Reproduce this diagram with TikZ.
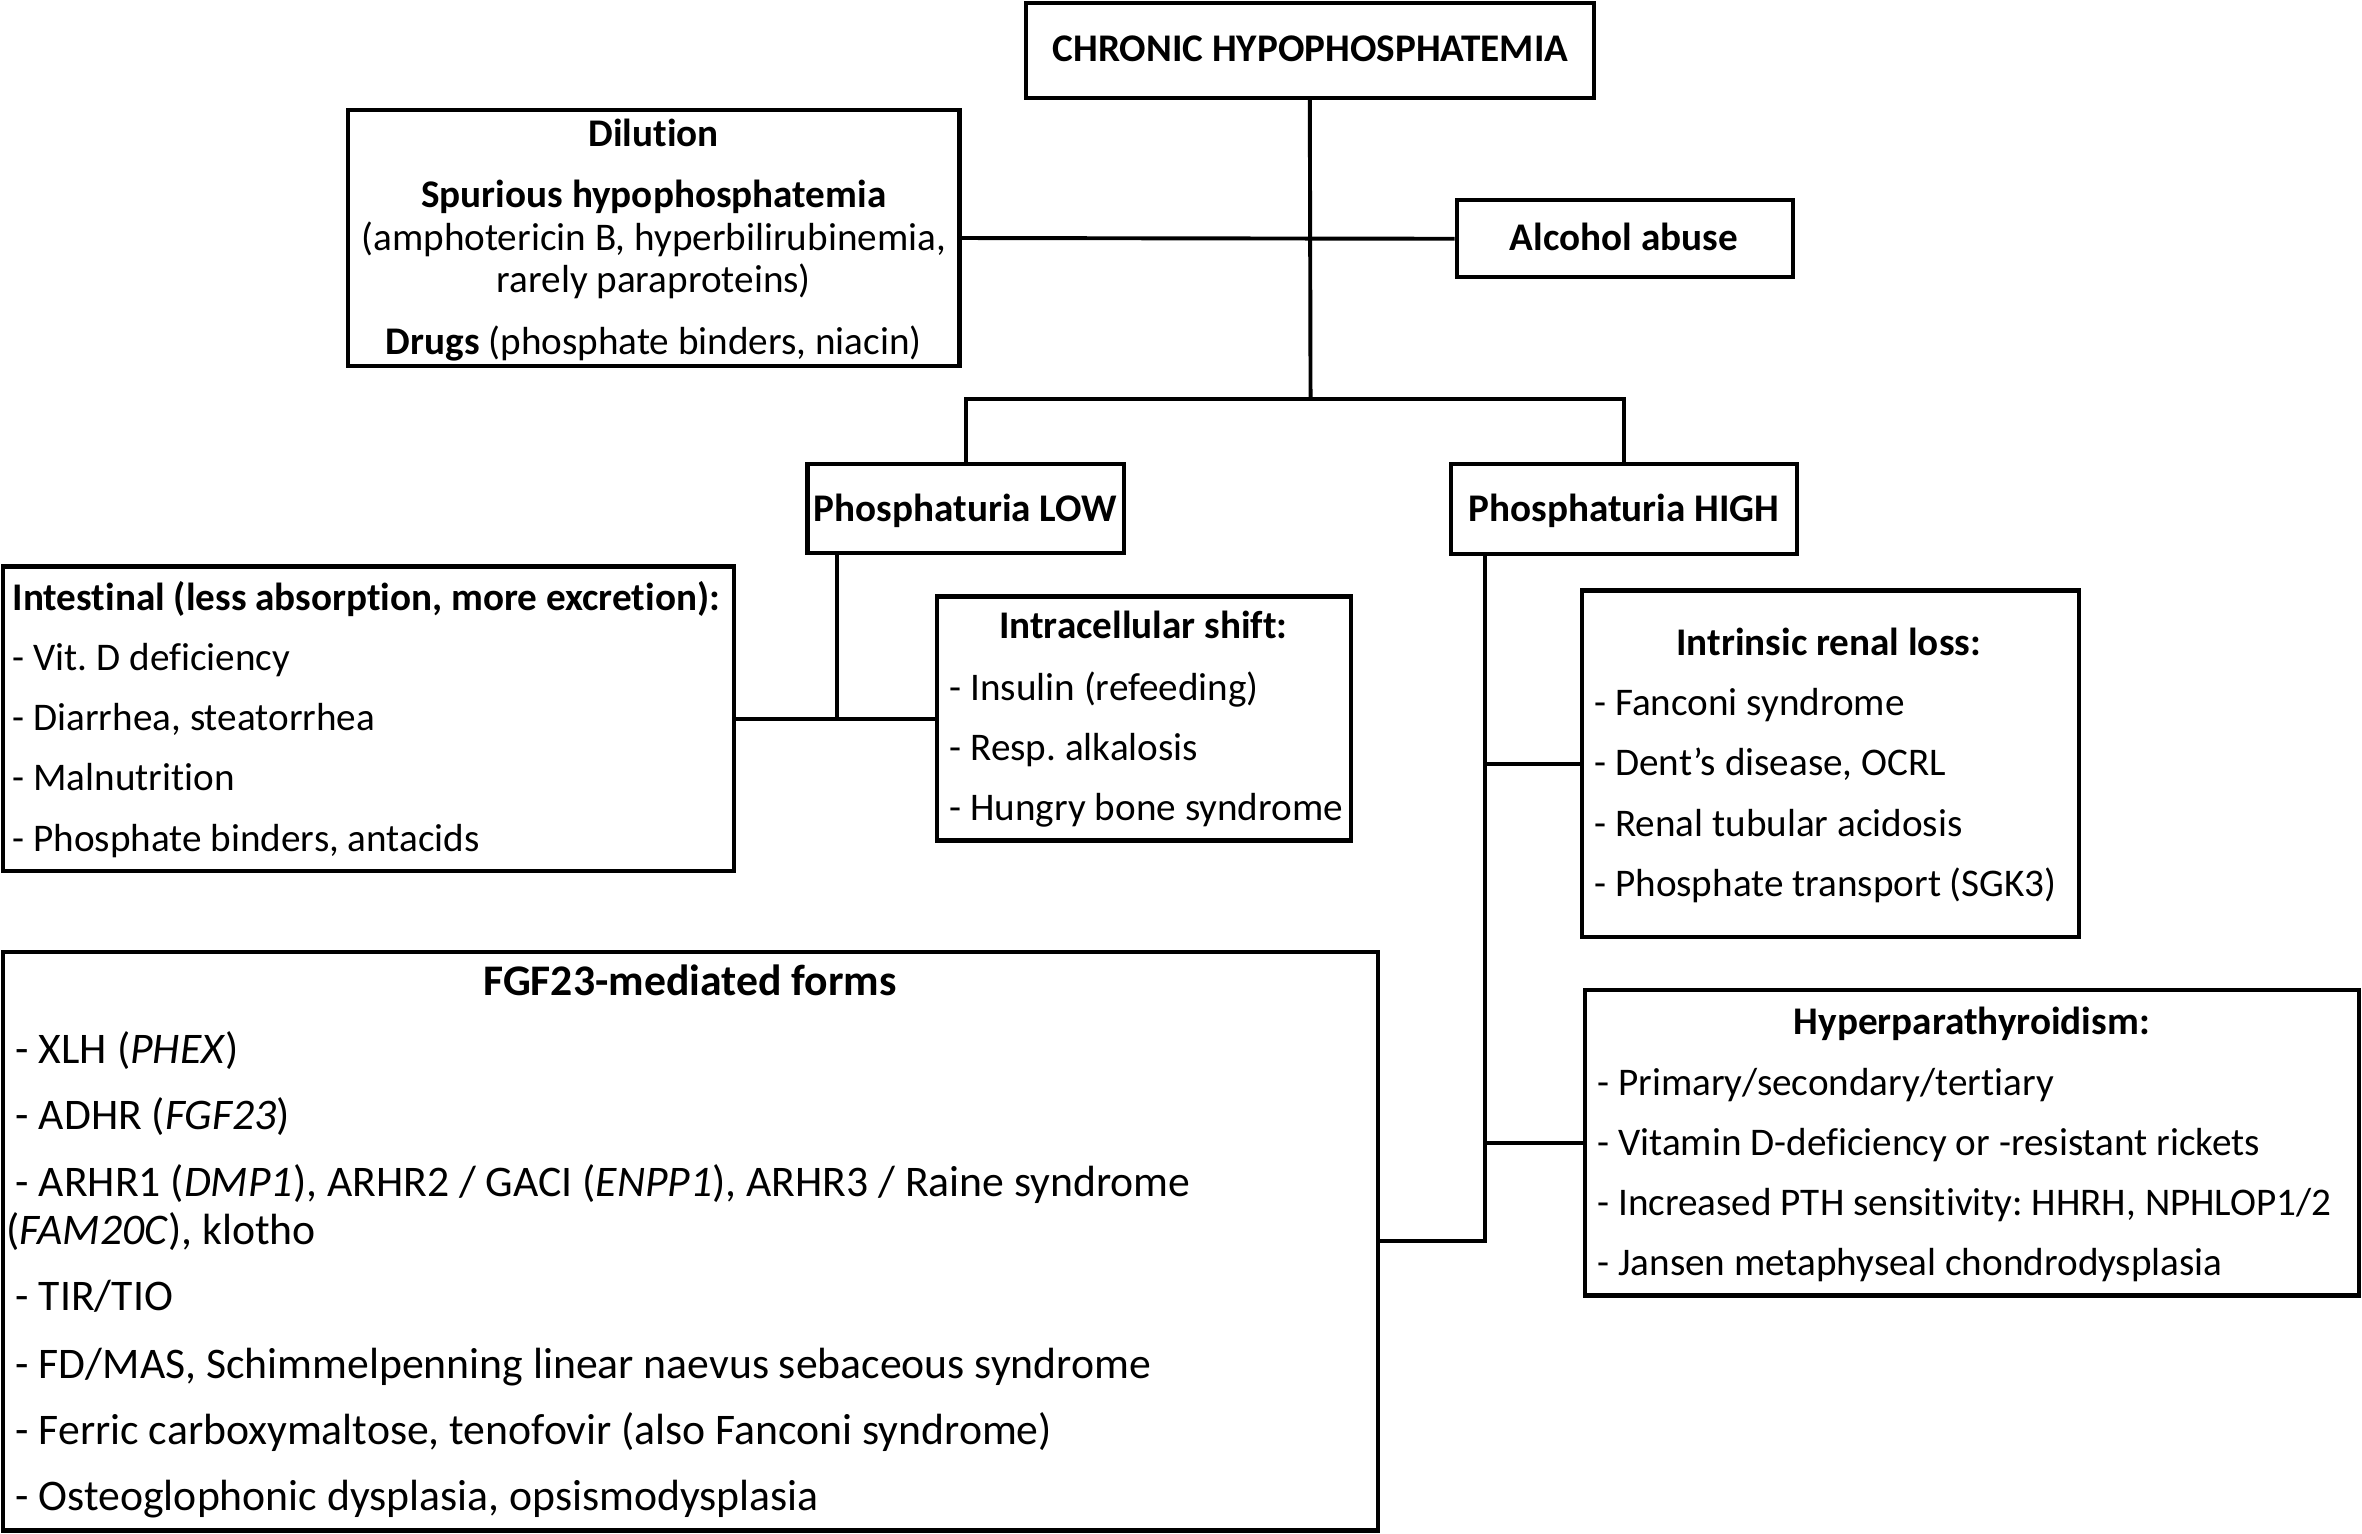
\documentclass[tikz,border=0pt]{standalone}
\usepackage{fontspec}
\setmainfont{Carlito}[Ligatures={NoCommon,NoRare,NoContextual}]
\usetikzlibrary{fit,calc}
\frenchspacing
\begin{document}
\begin{tikzpicture}[x=0.5pt,y=-0.5pt,
  box/.style={draw, line width=1.4pt, inner sep=0pt},
  conn/.style={line width=1.3pt},
  lt/.style={inner sep=0pt, anchor=base west, font=\fontsize{13}{15.6}\selectfont},
  ct/.style={inner sep=0pt, anchor=base, font=\fontsize{13}{15.6}\selectfont},
  bt/.style={ct, font=\fontsize{13}{15.6}\selectfont\bfseries},
  blt/.style={lt, font=\fontsize{13}{15.6}\selectfont\bfseries},
  flt/.style={lt, font=\fontsize{14.5}{17.4}\selectfont},
  fbt/.style={ct, font=\fontsize{14.5}{17.4}\selectfont\bfseries}]
\useasboundingbox (0,0) rectangle (1568,1018);
% boxes
\node[box, fit={(681,2) (1058,65)}] (top) {};
\node[box, fit={(231,73) (637,243)}] (dil) {};
\node[box, fit={(967,133) (1190,184)}] (alc) {};
\node[box, fit={(536,308) (746,367)}] (low) {};
\node[box, fit={(963,308) (1193,368)}] (high) {};
\node[box, fit={(2,376) (487,578)}] (intest) {};
\node[box, fit={(622,396) (897,558)}] (intra) {};
\node[box, fit={(1050,392) (1380,622)}] (intr) {};
\node[box, fit={(2,632) (915,1016)}] (fgf) {};
\node[box, fit={(1052,657) (1566,860)}] (hyp) {};
% texts
\node[bt] (t1) at (870,41) {CHRONIC HYPOPHOSPHATEMIA};
\node[bt] (d1) at (434,97) {Dilution};
\node[bt] (d2) at (434,138) {Spurious hypophosphatemia};
\node[ct] (d3) at (434,166) {(amphotericin B, hyperbilirubinemia,};
\node[ct] (d4) at (434,194) {rarely paraproteins)};
\node[ct] (d5) at (434,235) {\textbf{Drugs} (phosphate binders, niacin)};
\node[bt] (a1) at (1078,166) {Alcohol abuse};
\node[bt] (l1) at (641,346) {Phosphaturia LOW};
\node[bt] (h1) at (1078,346) {Phosphaturia HIGH};
\node[blt] (i0) at (8,405) {Intestinal (less absorption, more excretion):};
\node[lt] (i1) at (8,445) {- Vit. D deficiency};
\node[lt] (i2) at (8,485) {- Diarrhea, steatorrhea};
\node[lt] (i3) at (8,525) {- Malnutrition};
\node[lt] (i4) at (8,565) {- Phosphate binders, antacids};
\node[bt] (s0) at (759,424) {Intracellular shift:};
\node[lt] (s1) at (630,465) {- Insulin (refeeding)};
\node[lt] (s2) at (630,505) {- Resp. alkalosis};
\node[lt] (s3) at (630,545) {- Hungry bone syndrome};
\node[bt] (r0) at (1214,435) {Intrinsic renal loss:};
\node[lt] (r1) at (1058,475) {- Fanconi syndrome};
\node[lt] (r2) at (1058,515) {- Dent’s disease, OCRL};
\node[lt] (r3) at (1058,555) {- Renal tubular acidosis};
\node[lt] (r4) at (1058,595) {- Phosphate transport (SGK3)};
\node[bt] (p0) at (1309,687) {Hyperparathyroidism:};
\node[lt] (p1) at (1060,727) {- Primary/secondary/tertiary};
\node[lt] (p2) at (1060,767) {- Vitamin D-deficiency or -resistant rickets};
\node[lt] (p3) at (1060,807) {- Increased PTH sensitivity: HHRH, NPHLOP1/2};
\node[lt] (p4) at (1060,847) {- Jansen metaphyseal chondrodysplasia};
\node[fbt] (f0) at (458,661) {FGF23-mediated forms};
\node[flt] (f1) at (10,706) {- XLH (\textit{PHEX})};
\node[flt] (f2) at (10,750) {- ADHR (\textit{FGF23})};
\node[flt] (f3) at (10,794) {- ARHR1 (\textit{DMP1}), ARHR2 / GACI (\textit{ENPP1}), ARHR3 / Raine syndrome};
\node[flt] (f3b) at (4,826) {(\textit{FAM20C}), klotho};
\node[flt] (f4) at (10,870) {- TIR/TIO};
\node[flt] (f5) at (10,915) {- FD/MAS, Schimmelpenning linear naevus sebaceous syndrome};
\node[flt] (f6) at (10,959) {- Ferric carboxymaltose, tenofovir (also Fanconi syndrome)};
\node[flt] (f7) at (10,1003) {- Osteoglophonic dysplasia, opsismodysplasia};
% connectors
\coordinate (j1) at (870,265);
\coordinate (ld) at ([xshift=10.5pt]low.south west);
\coordinate (hd) at ([xshift=12pt]high.south west);
\draw[conn] (top.south) -- (j1);
\draw[conn] (dil.east) -- (alc.west);
\draw[conn] (low.north) |- (j1) -| (high.north);
\draw[conn] (intest.east) -- (intra.west);
\draw[conn] (ld) -- (ld |- intest.east);
\draw[conn] (hd) |- (fgf.east);
\draw[conn] (intr.west) -- (intr.west -| hd);
\draw[conn] (hyp.west) -- (hyp.west -| hd);
\end{tikzpicture}
\end{document}
